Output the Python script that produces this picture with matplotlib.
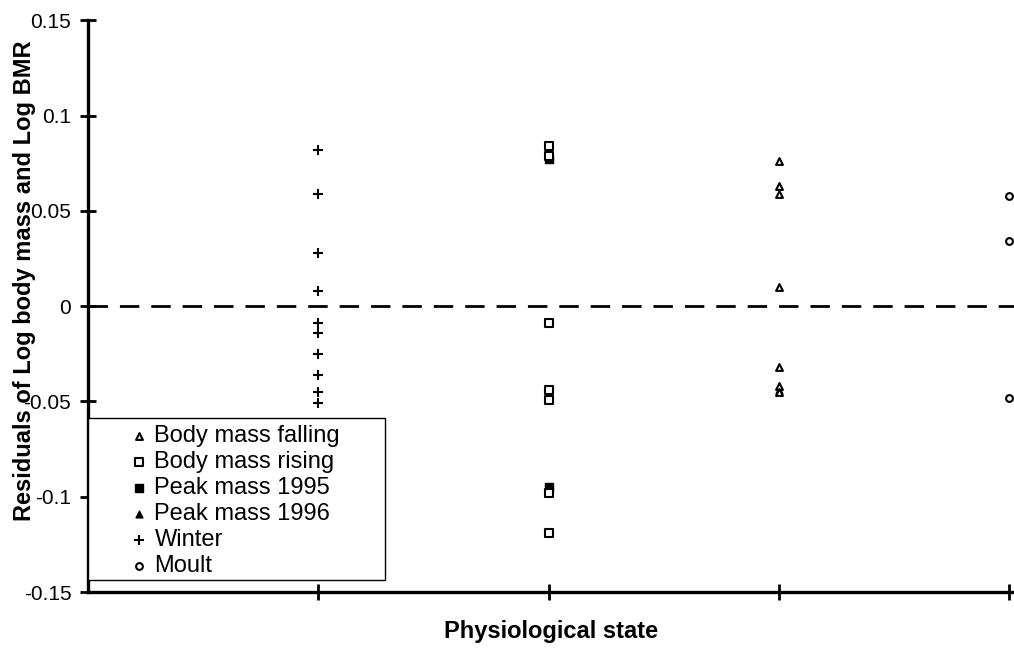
import matplotlib.pyplot as plt
from matplotlib.patches import Rectangle

plt.rcParams['font.family'] = ['Liberation Sans', 'DejaVu Sans']

# Residuals by physiological state (x position = state group)
falling_x = [3, 3, 3, 3, 3, 3, 3]
falling_y = [0.076, 0.063, 0.059, 0.010, -0.032, -0.042, -0.045]

rising_x = [2, 2, 2, 2, 2, 2, 2]
rising_y = [0.084, 0.079, -0.009, -0.044, -0.049, -0.098, -0.119]

peak95_x = [2, 2]
peak95_y = [0.077, -0.095]

peak96_x = [3]
peak96_y = [-0.044]

winter_x = [1, 1, 1, 1, 1, 1, 1, 1, 1, 1]
winter_y = [0.082, 0.059, 0.028, 0.008, -0.009, -0.014, -0.025, -0.036, -0.045, -0.051]

moult_x = [4, 4, 4]
moult_y = [0.058, 0.034, -0.048]

fig = plt.figure(figsize=(10.14, 6.52), dpi=100)
ax = fig.add_axes([0.0868, 0.092, 0.9132, 0.877])

ax.axhline(0, color='black', lw=2, dashes=(7, 4.3), zorder=1)

ax.scatter(falling_x, falling_y, marker='^', s=24, facecolors='white', edgecolors='black', linewidths=1.5, label='Body mass falling', zorder=3)
ax.scatter(rising_x, rising_y, marker='s', s=32, facecolors='white', edgecolors='black', linewidths=1.5, label='Body mass rising', zorder=3)
ax.scatter(peak95_x, peak95_y, marker='s', s=32, facecolors='black', edgecolors='black', label='Peak mass 1995', zorder=2)
ax.scatter(peak96_x, peak96_y, marker='^', s=24, facecolors='black', edgecolors='black', label='Peak mass 1996', zorder=2)
ax.scatter(winter_x, winter_y, marker='+', s=60, color='black', linewidths=1.5, label='Winter', zorder=3)
ax.scatter(moult_x, moult_y, marker='o', s=24, facecolors='white', edgecolors='black', linewidths=1.5, label='Moult', zorder=3)

ax.set_xlim(0, 4.02)
ax.set_ylim(-0.15, 0.15)
ax.set_xticks([1, 2, 3, 4])
ax.set_xticklabels([])
ax.set_yticks([-0.15, -0.1, -0.05, 0, 0.05, 0.1, 0.15])
ax.set_yticklabels(['-0.15', '-0.1', '-0.05', '0', '0.05', '0.1', '0.15'], fontsize=15)

for side in ['top', 'right']:
    ax.spines[side].set_visible(False)
for side in ['left', 'bottom']:
    ax.spines[side].set_linewidth(2.4)
ax.tick_params(axis='both', direction='inout', length=12, width=2, pad=6)

ax.set_xlabel('Physiological state', fontsize=17, fontweight='bold', labelpad=8)
ax.set_ylabel('Residuals of Log body mass and Log BMR', fontsize=17, fontweight='bold')
ax.yaxis.set_label_coords(-0.056, 0.545)

# legend box as in the original
ax.add_patch(Rectangle((0.0, 0.021), 0.321, 0.283, transform=ax.transAxes,
                       facecolor='white', edgecolor='black', lw=1.0, zorder=4))
leg = ax.legend(loc='upper left', bbox_to_anchor=(0.045, 0.292), fontsize=17, frameon=False,
                handletextpad=0.25, labelspacing=0.17, borderpad=0, handlelength=0.8,
                borderaxespad=0)
leg.set_zorder(5)

fig.savefig('out.png', dpi=100)
